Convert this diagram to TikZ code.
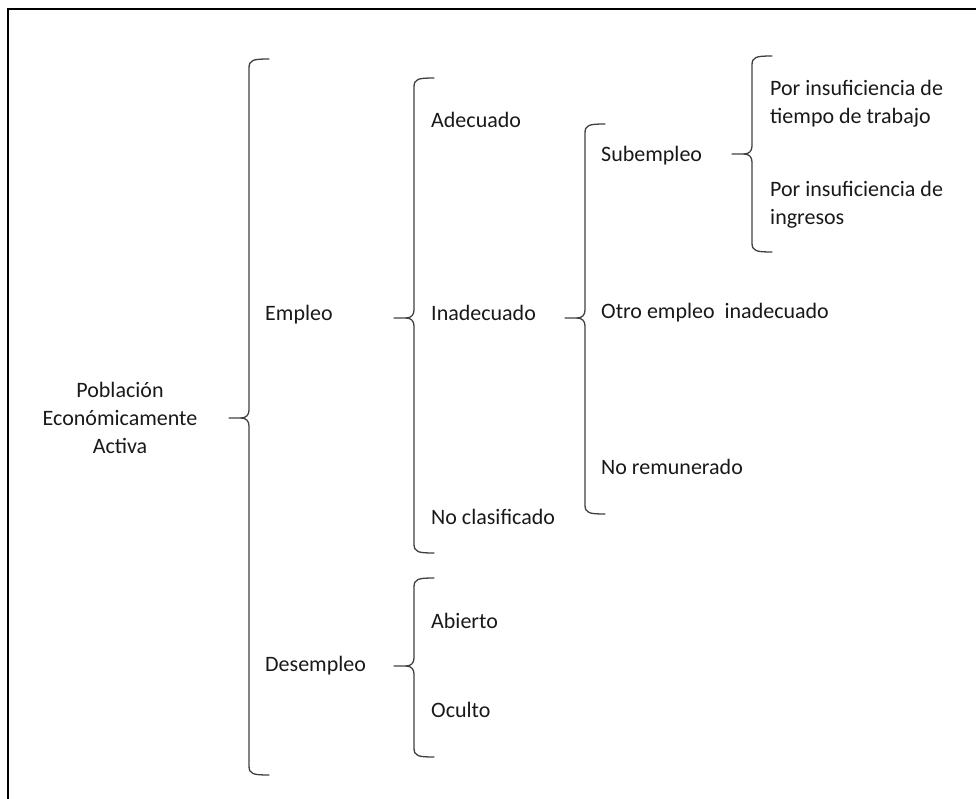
\documentclass[tikz,border=0pt]{standalone}
\usepackage{fontspec}
\setmainfont{Carlito}
\begin{document}
\begin{tikzpicture}[x=1pt,y=-1pt,
  label/.style={inner sep=0pt,anchor=west,align=left,text=black!90,
    font=\fontsize{22}{28}\selectfont},
  bracestroke/.style={draw=black!75,line width=1.3pt,line cap=round,line join=round}]
\useasboundingbox (0,0) rectangle (976,799);
% frame (top and left edges)
\draw[line width=2.2pt] (976,9) -- (8,9) -- (8,799);

% a left curly brace: #1 = x of the stem, #2 = top, #3 = tip, #4 = bottom, #5 = tip name
\newcommand\curlybrace[5]{%
  \coordinate (#5) at (#1-20,#3);
  \draw[bracestroke] (#1+20,#2) .. controls (#1+4,#2) and (#1,#2+1) .. (#1,#2+9)
    -- (#1,#3-8) .. controls (#1,#3-3) and (#1-3,#3) .. (#1-8,#3) -- (#5);
  \draw[bracestroke] (#1+20,#4) .. controls (#1+4,#4) and (#1,#4-1) .. (#1,#4-9)
    -- (#1,#3+8) .. controls (#1,#3+3) and (#1-3,#3) .. (#1-8,#3);
}

% labels
\node[label,anchor=center,align=center] (pea) at (120,418) {Población\\Económicamente\\Activa};
\node[label] (empleo) at (265,315) {Empleo};
\node[label] (desempleo) at (265,666) {Desempleo};
\node[label] (adecuado) at (431,120) {Adecuado};
\node[label] (inadecuado) at (431,313) {Inadecuado};
\node[label] (noclas) at (431,517) {No clasificado};
\node[label] (abierto) at (431,621) {Abierto};
\node[label] (oculto) at (431,710) {Oculto};
\node[label] (subempleo) at (601,156) {Subempleo};
\node[label] (otro) at (601,313) {Otro empleo\ \ inadecuado};
\node[label] (noremu) at (601,467) {No remunerado};
\node[label] (tiempo) at (770,104) {Por insuficiencia de\\tiempo de trabajo};
\node[label] (ingresos) at (770,205) {Por insuficiencia de\\ingresos};

% braces
\curlybrace{249}{59}{418}{775}{tipPea}
\curlybrace{414}{78}{318}{553}{tipEmpleo}
\curlybrace{414}{578}{666}{757}{tipDesempleo}
\curlybrace{585}{124}{318}{514}{tipInadecuado}
\curlybrace{752}{56}{154}{252}{tipSubempleo}
\end{tikzpicture}
\end{document}
